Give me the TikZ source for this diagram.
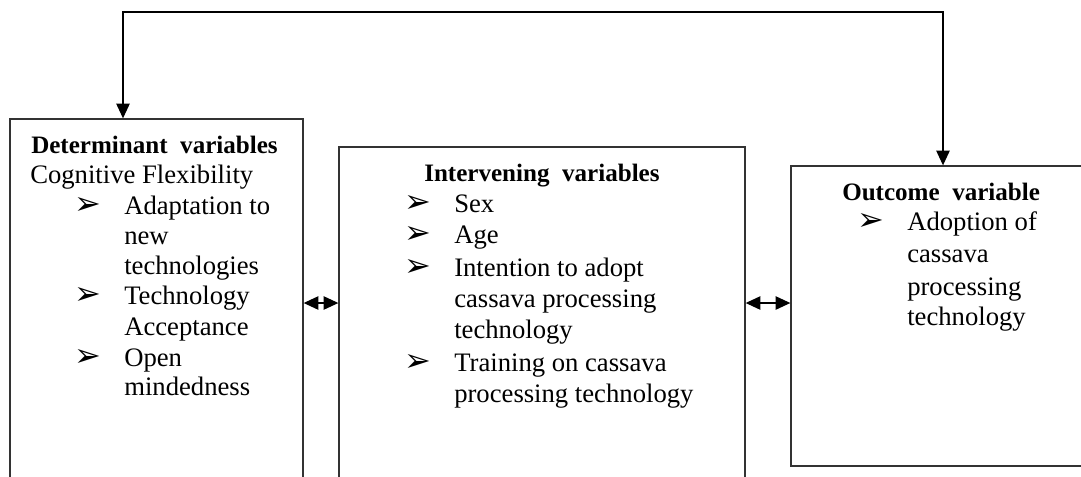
\documentclass[tikz,border=0pt]{standalone}
\usepackage{fontspec}
\setmainfont{Liberation Serif}
\newfontfamily\bulfont{DejaVu Sans}
\usetikzlibrary{arrows.meta,fit}
\newcommand\bul{\llap{\makebox[37pt][l]{\bulfont\fontsize{24}{24}\selectfont ➢}}}
\begin{document}
\begin{tikzpicture}[x=0.75pt,y=-0.75pt,
  box/.style={draw=black!80, line width=1pt, inner sep=0pt},
  txt/.style={anchor=base west, inner sep=0pt, font=\fontsize{20}{23}\selectfont},
  hd/.style={anchor=base west, inner sep=0pt, font=\fontsize{18.8}{23}\selectfont\bfseries},
  conn/.style={draw=black, line width=1pt, {Triangle[length=11pt,width=10pt]}-{Triangle[length=11pt,width=10pt]}}
]
\clip (0,0) rectangle (1081,476);
\path[use as bounding box] (0,0) rectangle (1081,476);

\node[box, fit={(10,119)(303,540)}] (b1) {};
\node[box, fit={(339,147)(745,540)}] (b2) {};
\node[box, fit={(791,166)(1140,466)}] (b3) {};

% Box 1 text
\node[hd]  (h1) at (31,153) {Determinant\ \ variables};
\node[txt] (d0) at (30,183) {Cognitive Flexibility};
\node[txt] (d1) at (124,214) {\bul Adaptation to};
\node[txt] (d2) at (124,244) {new};
\node[txt] (d3) at (124,274) {technologies};
\node[txt] (d4) at (124,304) {\bul Technology};
\node[txt] (d5) at (124,335) {Acceptance};
\node[txt] (d6) at (124,366) {\bul Open};
\node[txt] (d7) at (124,395) {mindedness};

% Box 2 text
\node[hd]  (h2) at (424,181) {Intervening\ \ variables};
\node[txt] (i1) at (454,212) {\bul Sex};
\node[txt] (i2) at (454,243) {\bul Age};
\node[txt] (i3) at (454,276) {\bul Intention to adopt};
\node[txt] (i4) at (454,307) {cassava processing};
\node[txt] (i5) at (454,338) {technology};
\node[txt] (i6) at (454,371) {\bul Training on cassava};
\node[txt] (i7) at (454,402) {processing technology};

% Box 3 text
\node[hd]  (h3) at (842,200) {Outcome\ \ variable};
\node[txt] (o1) at (907,230) {\bul Adoption of};
\node[txt] (o2) at (907,262) {cassava};
\node[txt] (o3) at (907,295) {processing};
\node[txt] (o4) at (907,325) {technology};

% connectors
\coordinate (t1) at (123,12);
\coordinate (t2) at (943,12);
\coordinate (m) at (0,303);
\draw[conn] (t1 |- b1.north) -- (t1) -- (t2) -- (t2 |- b3.north);
\draw[conn] (b1.east |- m) -- (b2.west |- m);
\draw[conn] (b2.east |- m) -- (b3.west |- m);
\end{tikzpicture}
\end{document}
